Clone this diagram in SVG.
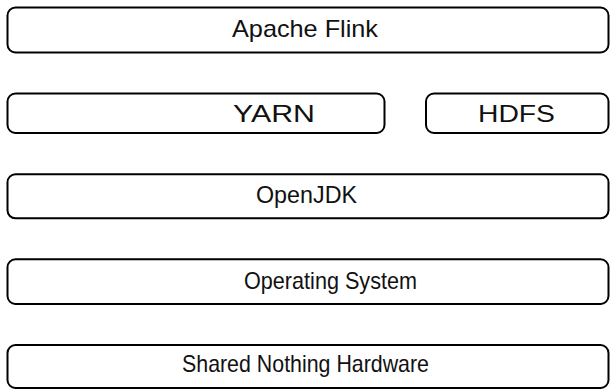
<svg xmlns="http://www.w3.org/2000/svg" width="610" height="390" viewBox="0 0 610 390">
<style>
.box{fill:#fff;stroke:#000;stroke-width:2}
.lbl{font-family:"Liberation Sans","DejaVu Sans",sans-serif;font-size:24px;fill:#111;text-anchor:middle}
</style>
<rect width="610" height="390" fill="#fff"/>
<g id="connectors"/>
<g id="flink"><rect class="box" x="7.5" y="7.5" width="601" height="45" rx="8"/><text class="lbl" x="305" y="37" textLength="146" lengthAdjust="spacingAndGlyphs">Apache Flink</text></g>
<g id="yarn"><rect class="box" x="7.5" y="93.5" width="377" height="39.5" rx="8"/><text class="lbl" x="274" y="122" textLength="82" lengthAdjust="spacingAndGlyphs">YARN</text></g>
<g id="hdfs"><rect class="box" x="426" y="93.5" width="182.5" height="39.5" rx="8"/><text class="lbl" x="516.5" y="122" textLength="77" lengthAdjust="spacingAndGlyphs">HDFS</text></g>
<g id="openjdk"><rect class="box" x="7.5" y="174.3" width="601" height="44" rx="8"/><text class="lbl" x="306.5" y="203" textLength="101" lengthAdjust="spacingAndGlyphs">OpenJDK</text></g>
<g id="os"><rect class="box" x="7.5" y="259.3" width="601" height="44.7" rx="8"/><text class="lbl" x="330.5" y="288.5" textLength="173" lengthAdjust="spacingAndGlyphs">Operating System</text></g>
<g id="hardware"><rect class="box" x="7.5" y="345" width="601" height="43" rx="8"/><text class="lbl" x="305.5" y="372" textLength="247" lengthAdjust="spacingAndGlyphs">Shared Nothing Hardware</text></g>
</svg>
